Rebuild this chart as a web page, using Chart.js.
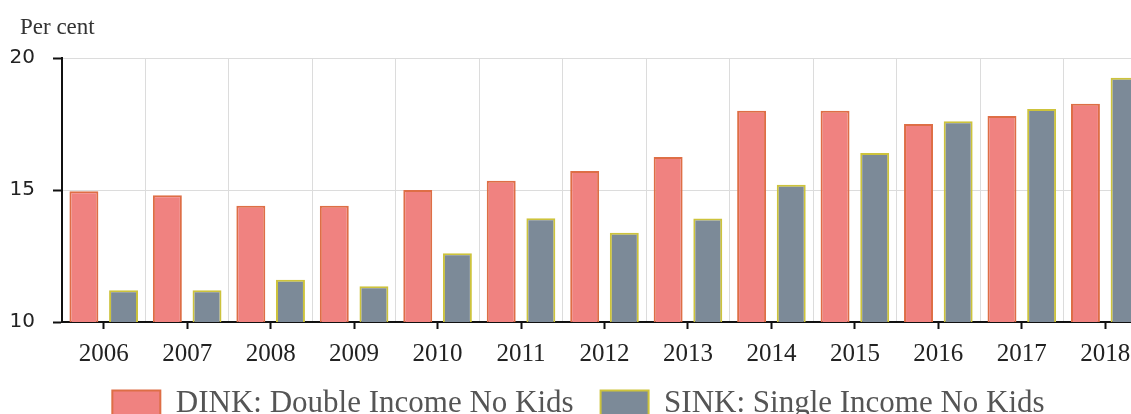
<!DOCTYPE html>
<html>
<head>
<meta charset="utf-8">
<script src="https://cdn.jsdelivr.net/npm/chart.js@4"></script>
<style>
  html, body { margin: 0; padding: 0; background: #fff; overflow: hidden; }
  #wrap { position: relative; width: 1147px; height: 429px; }
</style>
</head>
<body>
<div id="wrap"><canvas id="grafica"></canvas></div>
<script>
// Datos
const anios = ['2006', '2007', '2008', '2009', '2010', '2011', '2012', '2013', '2014', '2015', '2016', '2017', '2018'];
const dink = [14.95, 14.8, 14.4, 14.4, 15.0, 15.35, 15.72, 16.25, 18.0, 18.0, 17.5, 17.8, 18.27];
const sink = [11.2, 11.2, 11.6, 11.35, 12.6, 13.93, 13.38, 13.92, 15.2, 16.4, 17.6, 18.07, 19.25];
const ticksY = [10, 15, 20];

// Texto "Per cent" arriba a la izquierda
const tituloPlugin = {
  id: 'tituloPerCent',
  afterDraw(chart) {
    const ctx = chart.ctx;
    ctx.save();
    ctx.font = '23px "Liberation Serif", serif';
    ctx.fillStyle = '#333';
    ctx.textAlign = 'left';
    ctx.textBaseline = 'middle';
    ctx.fillText('Per cent', 20, 28);
    ctx.restore();
  }
};

new Chart(document.getElementById('grafica'), {
  type: 'bar',
  data: {
    labels: anios,
    datasets: [{
      label: 'DINK: Double Income No Kids',
      data: dink,
      backgroundColor: 'rgb(240, 130, 128)',
      borderColor: 'rgb(222, 110, 70)',
      borderWidth: 2,
      borderSkipped: 'bottom',
      categoryPercentage: 0.95,
      barPercentage: 0.73
    }, {
      label: 'SINK: Single Income No Kids',
      data: sink,
      backgroundColor: 'rgb(124, 138, 152)',
      borderColor: 'rgb(205, 195, 60)',
      borderWidth: 2,
      borderSkipped: 'bottom',
      categoryPercentage: 0.95,
      barPercentage: 0.73
    }]
  },
  options: {
    responsive: true,
    maintainAspectRatio: false,
    animation: false,
    layout: { padding: { top: 58, left: 10, right: 0, bottom: 0 } },
    plugins: {
      tooltip: { enabled: false },
      legend: {
        position: 'bottom',
        labels: {
          font: { family: '"Liberation Serif", serif', size: 31 },
          color: '#555',
          boxWidth: 48,
          boxHeight: 26,
          padding: 27
        }
      }
    },
    scales: {
      x: {
        position: 'bottom',
        afterFit(scale) {
          scale.height = 39;
        },
        grid: {
          offset: false,
          drawOnChartArea: false,
          drawTicks: true,
          tickLength: 7,
          tickWidth: 2,
          tickColor: '#111'
        },
        border: { color: '#111', width: 2 },
        ticks: {
          font: { family: '"Liberation Serif", serif', size: 25 },
          color: '#222',
          padding: 10,
          maxRotation: 0
        }
      },
      xg: {
        type: 'category',
        labels: anios,
        position: 'top',
        offset: true,
        grid: { offset: true, drawTicks: false, color: '#dcdcdc', lineWidth: 1 },
        border: { display: false },
        ticks: { display: false }
      },
      y: {
        min: 10,
        max: 20,
        afterBuildTicks(scale) {
          scale.ticks = ticksY.map(v => ({ value: v }));
        },
        afterFit(scale) {
          scale.width = 52;
        },
        grid: {
          color: '#dcdcdc',
          tickColor: '#111',
          tickLength: 9,
          tickWidth: 2
        },
        border: { color: '#111', width: 2 },
        ticks: {
          font: { family: '"DejaVu Sans", sans-serif', size: 20 },
          color: '#222',
          padding: 18
        }
      }
    }
  },
  plugins: [tituloPlugin]
});
</script>
</body>
</html>
